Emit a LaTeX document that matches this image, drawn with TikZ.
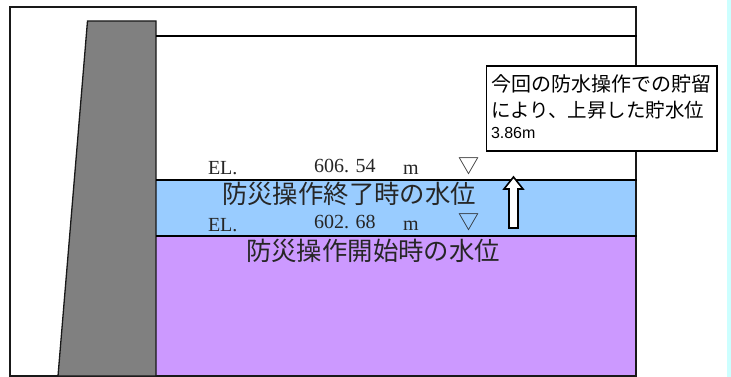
\documentclass[tikz,border=0pt]{standalone}
\usepackage{fontspec}
\setmainfont{Liberation Serif}
\newfontfamily\cjkfont{Noto Sans CJK JP}
\newfontfamily\boxfont{Liberation Sans}
\usepackage{xcolor}
\definecolor{waterblue}{HTML}{99CCFF}
\definecolor{waterpurple}{HTML}{CC99FF}
\definecolor{damgray}{HTML}{808080}
\definecolor{stripcyan}{HTML}{CCFFFF}
\usetikzlibrary{calc}

\begin{document}
\begin{tikzpicture}[-, x=1pt, y=-1pt, inner sep=0pt, outer sep=0pt,
level line/.style={line width=2pt},
el node/.style={font=\fontsize{20}{20}\selectfont, text=black!85},
mark node/.style={font=\cjkfont\fontsize{21}{21}\selectfont, text=black!85},
name node/.style={font=\cjkfont\fontsize{25.4}{25.4}\selectfont, text=black!85}]
\useasboundingbox (0,0) rectangle (731,377);
\fill[white] (0,0) rectangle (731,377);
\fill[stripcyan] (727,0) rectangle (731,377);
\fill[waterpurple] (156,236) rectangle (637,376);
\fill[waterblue] (156,180) rectangle (635,236);
\draw[line width=2pt, black!90] (10,7) rectangle (635.5,376);
\draw[line width=1.3pt, black!90, fill=damgray] (87.5,21) -- (156,21) -- (156,376) -- (58,376) -- cycle;
\coordinate (crest left) at (156,36);
\coordinate (crest right) at (637,36);
\coordinate (upper left) at (156,180);
\coordinate (upper right) at (637,180);
\coordinate (lower left) at (156,236);
\coordinate (lower right) at (637,236);
\path[level line]
(crest left) edge (crest right)
(upper left) edge (upper right)
(lower left) edge (lower right);
\node[el node, anchor=west] (el upper) at (208,168) {EL.};
\node[el node, anchor=west] (value upper) at (314,166) {606.\,\,54};
\node[el node, anchor=west] (unit upper) at (403,170) {m};
\node[mark node] (mark upper) at (469,166) {▽};
\node[name node] (name upper) at (349,194) {防災操作終了時の水位};
\node[el node, anchor=west] (el lower) at (208,225) {EL.};
\node[el node, anchor=west] (value lower) at (314,222) {602.\,\,68};
\node[el node, anchor=west] (unit lower) at (403,226) {m};
\node[mark node] (mark lower) at (469,222) {▽};
\node[name node] (name lower) at (373,251) {防災操作開始時の水位};
\draw[line width=1.6pt, fill=white] (513.5,177) -- (523,189) -- (518,189) -- (518,228) -- (509,228) -- (509,189) -- (504,189) -- cycle;
\draw[line width=1.6pt, fill=white] (486.5,66) rectangle (717,151);
\node[font=\cjkfont\fontsize{20}{20}\selectfont, anchor=west] (note one) at (491,84) {今回の防水操作での貯留};
\node[font=\cjkfont\fontsize{19.5}{20}\selectfont, anchor=west] (note two) at (491,110) {により、上昇した貯水位};
\node[font=\boxfont\fontsize{16}{16}\selectfont, anchor=west] (note three) at (491,133) {3.86m};
\end{tikzpicture}
\end{document}
